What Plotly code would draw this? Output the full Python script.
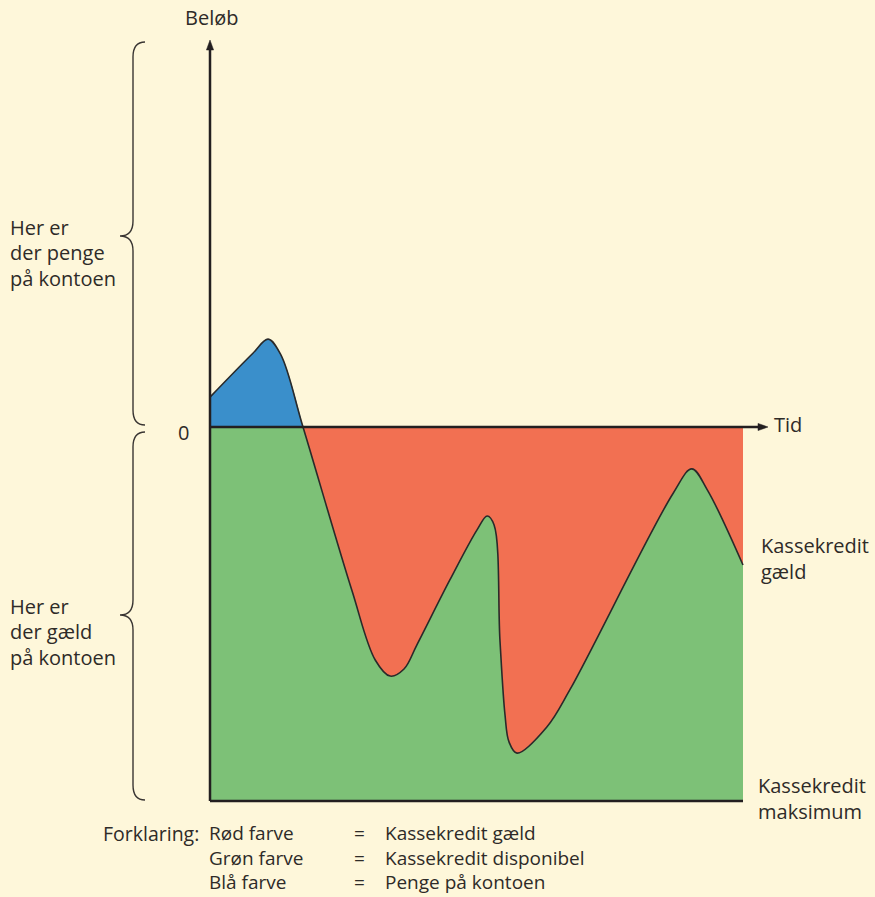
import plotly.graph_objects as go

# ---------------- data (time units 0..100, amount: 0 = zero line, -100 = credit maximum)
time = [0, 8.1, 10.9, 13.3, 17.45, 26.6, 31.0, 33.8, 36.4, 38.8, 45.0, 50.1, 52.0, 53.3,
        54.4, 55.35, 56.1, 57.6, 63.2, 67.5, 86.9, 90.4, 93.3, 100]
amount = [8.0, 19.8, 23.5, 19.3, 0, -43.6, -62.3, -66.6, -64.7, -58.3, -40.9, -27.5, -23.8, -26.2,
          -57.0, -77.0, -84.2, -87.2, -80.2, -70.3, -17.7, -11.2, -16.8, -36.9]
n_positive = 5          # first points where the account holds money (ends at the zero crossing)
credit_max = -100
t_end = 100

legend_colors = ["Rød farve", "Grøn farve", "Blå farve"]
legend_meaning = ["Kassekredit gæld", "Kassekredit disponibel", "Penge på kontoen"]

# ---------------- geometry (pixel placement of the chart frame)
W, H = 875, 897
X0_PX, X100_PX = 210, 743
Y0_PX, YM100_PX = 427, 801
sx = (X100_PX - X0_PX) / 100.0
sy = (YM100_PX - Y0_PX) / 100.0


def X(px):
    return (px - X0_PX) / sx


def Y(py):
    return (Y0_PX - py) / sy


BG = "#FEF7DA"
RED = "#F27052"
GREEN = "#7DC177"
BLUE = "#3A8FCB"
INK = "#231F20"
TXT = "#2E2B28"
FONT = "Open Sans"

fig = go.Figure()

# red: whole debt area below zero
fig.add_trace(go.Scatter(x=[0, t_end], y=[credit_max, credit_max], mode="lines",
                         line=dict(width=0), fill="tozeroy", fillcolor=RED,
                         hoverinfo="skip", showlegend=False))
# green: from credit max up to the curve
fig.add_trace(go.Scatter(x=[0, t_end], y=[credit_max, credit_max], mode="lines",
                         line=dict(width=0), hoverinfo="skip", showlegend=False))
fig.add_trace(go.Scatter(x=time, y=amount, mode="lines",
                         line=dict(width=0, shape="spline", smoothing=1.0),
                         fill="tonexty", fillcolor=GREEN, hoverinfo="skip", showlegend=False))
# blue: money on the account (above zero)
fig.add_trace(go.Scatter(x=time[:n_positive], y=amount[:n_positive], mode="lines",
                         line=dict(width=0, shape="spline", smoothing=1.0),
                         fill="tozeroy", fillcolor=BLUE, hoverinfo="skip", showlegend=False))
# outline of the balance curve
fig.add_trace(go.Scatter(x=time, y=amount, mode="lines",
                         line=dict(width=1.6, color="#2A2A2A", shape="spline", smoothing=1.0),
                         hoverinfo="skip", showlegend=False))

shapes = []
# axes
shapes.append(dict(type="line", x0=0, x1=0, y0=credit_max, y1=Y(48), xref="x", yref="y",
                   line=dict(color=INK, width=2.5), layer="above"))
shapes.append(dict(type="line", x0=0, x1=X(760), y0=0, y1=0, xref="x", yref="y",
                   line=dict(color=INK, width=2.5), layer="above"))
shapes.append(dict(type="line", x0=0, x1=t_end, y0=credit_max, y1=credit_max, xref="x", yref="y",
                   line=dict(color=INK, width=2.5), layer="above"))
# arrowheads
shapes.append(dict(type="path", xref="x", yref="y", layer="above",
                   path=f"M {X(X0_PX)},{Y(40)} L {X(X0_PX-3.6)},{Y(50)} L {X(X0_PX+3.6)},{Y(50)} Z",
                   fillcolor=INK, line=dict(color=INK, width=0.5)))
shapes.append(dict(type="path", xref="x", yref="y", layer="above",
                   path=f"M {X(768)},{Y(Y0_PX)} L {X(758)},{Y(Y0_PX-3.6)} L {X(758)},{Y(Y0_PX+3.6)} Z",
                   fillcolor=INK, line=dict(color=INK, width=0.5)))


def brace(xl, xt, xe, yt, ym, yb, r):
    p = [
        f"M {X(xe)},{Y(yt)}",
        f"Q {X(xl)},{Y(yt)} {X(xl)},{Y(yt + r)}",
        f"L {X(xl)},{Y(ym - r)}",
        f"Q {X(xl)},{Y(ym)} {X(xt)},{Y(ym)}",
        f"Q {X(xl)},{Y(ym)} {X(xl)},{Y(ym + r)}",
        f"L {X(xl)},{Y(yb - r)}",
        f"Q {X(xl)},{Y(yb)} {X(xe)},{Y(yb)}",
    ]
    return dict(type="path", xref="x", yref="y", path=" ".join(p),
                line=dict(color="#3A3633", width=1.4), layer="above")


shapes.append(brace(133, 120, 145, 42, 236, 425, 15))
shapes.append(brace(133, 120, 145, 432, 615, 800, 15))

ann = []


def txt(s, px, py, anchor="left", size=20):
    ann.append(dict(text=s, x=X(px), y=Y(py), xref="x", yref="y", showarrow=False,
                    xanchor=anchor, yanchor="middle", align="left",
                    font=dict(family=FONT, size=size, color=TXT)))


txt("Beløb", 211, 17, "center")
txt("0", 183, 432, "center")
txt("Tid", 772, 424)
for i, s in enumerate(["Her er", "der penge", "på kontoen"]):
    txt(s, 8, 227 + i * 25.5)
for i, s in enumerate(["Her er", "der gæld", "på kontoen"]):
    txt(s, 8, 606 + i * 25.5)
txt("Kassekredit", 759, 545)
txt("gæld", 759, 571)
txt("Kassekredit", 756, 785)
txt("maksimum", 756, 811)
txt("Forklaring:", 101, 833, size=19.5)
txt("<br>".join(legend_colors), 207, 857.5, size=19)
txt("<br>".join(["="] * len(legend_colors)), 352, 857.5, size=19)
txt("<br>".join(legend_meaning), 383, 857.5, size=19)

fig.update_layout(
    width=W, height=H,
    margin=dict(l=0, r=0, t=0, b=0),
    paper_bgcolor=BG, plot_bgcolor=BG,
    xaxis=dict(range=[X(0), X(W)], visible=False, fixedrange=True),
    yaxis=dict(range=[Y(H), Y(0)], visible=False, fixedrange=True),
    shapes=shapes, annotations=ann,
    showlegend=False,
)

fig.write_html("out.html", config={"displayModeBar": False},
               post_script="document.body.style.margin='0';document.body.style.overflow='hidden';"
                           "document.body.style.background='" + BG + "';")
